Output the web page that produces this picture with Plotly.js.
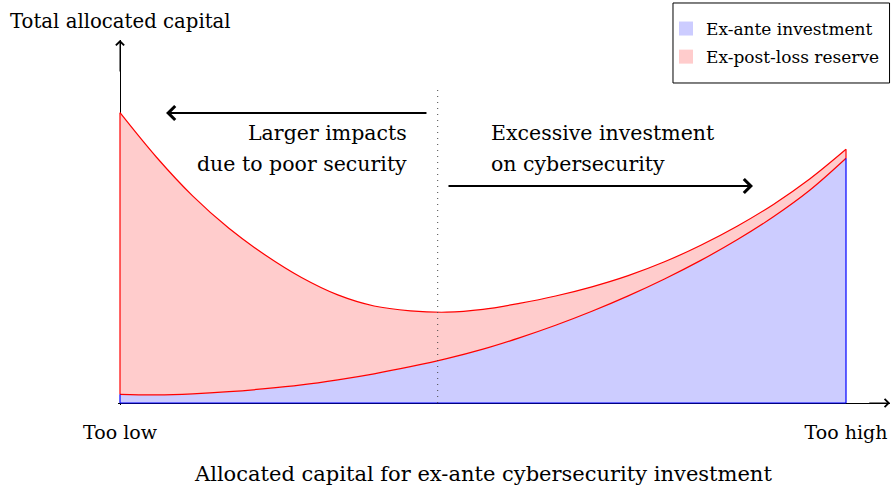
<!DOCTYPE html>
<html>
<head>
<meta charset="utf-8">
<script src="https://cdn.plot.ly/plotly-3.0.1.min.js"></script>
<style>html,body{margin:0;padding:0;background:#fff;}#chart{width:891px;height:487px;}</style>
</head>
<body>
<div id="chart"></div>
<script>
// Position along the "allocated capital for ex-ante investment" axis (arbitrary units)
const allocation = [0, 0.5, 1, 1.5, 2, 2.5, 3, 3.5, 4, 4.5, 5, 5.5, 6, 6.5, 7, 7.5, 8, 8.5, 9, 9.5, 10];
// Ex-ante investment (lower, blue area) - arbitrary capital units
const exAnte = [8.7, 8.2, 9.2, 11.3, 14.3, 18.1, 23.2, 29.2, 36.3, 44.3, 53.8,
                65.1, 77.7, 91.7, 107.1, 124.0, 142.6, 163.2, 186.2, 212.7, 244.7];
// Ex-post-loss reserve (stacked on top, red area)
const reserve = [281.6, 237.8, 197.9, 163.4, 133.7, 107.4, 84.9, 67.8, 55.9, 46.5, 39.8,
                 34.5, 29.3, 24.5, 20.3, 17.2, 15.2, 13.6, 12.4, 11.3, 9.0];
const tickLabels = ['Too low', 'Too high'];
const seriesNames = ['Ex-ante investment', 'Ex-post-loss reserve'];
const optimum = 4.376;

const total = exAnte.map((v, i) => v + reserve[i]);
const n = allocation.length - 1;
const x0 = allocation[0], xN = allocation[n];

const BLUE_FILL = 'rgb(204,204,255)', RED_FILL = 'rgb(255,204,204)';
const RED = 'rgb(255,0,0)', BLUE = 'rgb(0,0,255)';

const traces = [
  {x: allocation, y: exAnte, type: 'scatter', mode: 'lines', fill: 'tozeroy',
   fillcolor: BLUE_FILL, line: {color: RED, width: 1.2, shape: 'spline'}, showlegend: false, hoverinfo: 'skip'},
  {x: allocation, y: total, type: 'scatter', mode: 'lines', fill: 'tonexty',
   fillcolor: RED_FILL, line: {color: RED, width: 1.2, shape: 'spline'}, showlegend: false, hoverinfo: 'skip'},
  // outline of the ex-ante area (left, bottom and right edges)
  {x: [x0, x0, null, x0, xN, null, xN, xN], y: [0, exAnte[0], null, 0, 0, null, 0, exAnte[n]],
   type: 'scatter', mode: 'lines', line: {color: BLUE, width: 1.2}, connectgaps: false,
   showlegend: false, hoverinfo: 'skip'},
  // outline of the reserve area (left and right edges)
  {x: [x0, x0, null, xN, xN], y: [exAnte[0], total[0], null, exAnte[n], total[n]],
   type: 'scatter', mode: 'lines', line: {color: RED, width: 1.2}, connectgaps: false,
   showlegend: false, hoverinfo: 'skip'},
  // legend entries
  {x: [null], y: [null], type: 'scatter', mode: 'markers', name: seriesNames[0], legendgroup: 'a',
   marker: {symbol: 'square', size: 14, color: BLUE_FILL, line: {width: 0}}},
  {x: [null], y: [null], type: 'scatter', mode: 'markers', name: seriesNames[1], legendgroup: 'b',
   marker: {symbol: 'square', size: 14, color: RED_FILL, line: {width: 0}}}
];

const txt = (text, x, y, xanchor, size, ref) => ({
  text: text, x: x, y: y, xref: ref || 'x', yref: ref || 'y', xanchor: xanchor, yanchor: 'middle',
  showarrow: false, font: {size: size}
});
const arrow = (x, y, ax, ay, w, s) => ({
  text: '', x: x, y: y, ax: ax, ay: ay, xref: 'x', yref: 'y', axref: 'x', ayref: 'y',
  showarrow: true, arrowhead: 4, arrowwidth: w, arrowsize: s, arrowcolor: '#000', standoff: 0
});

const layout = {
  width: 891, height: 487,
  margin: {l: 118, r: 1, t: 40, b: 82, pad: 0},
  paper_bgcolor: '#fff', plot_bgcolor: '#fff',
  font: {family: '"DejaVu Serif", serif', size: 19, color: '#000'},
  showlegend: true,
  xaxis: {range: [-0.02755, 10.606], showgrid: false, zeroline: true, zerolinecolor: '#000',
    zerolinewidth: 1, showline: false, ticks: '', tickmode: 'array',
    tickvals: [x0, xN], ticktext: tickLabels, ticklabelstandoff: 14, fixedrange: true},
  yaxis: {range: [-2, 363], showgrid: false, zeroline: true, zerolinecolor: '#000',
    zerolinewidth: 1, showline: false, ticks: '', showticklabels: false, fixedrange: true},
  legend: {x: 0.9935, xanchor: 'right', y: 1.0795, yanchor: 'top', bgcolor: 'rgba(0,0,0,0)',
    borderwidth: 0, font: {size: 17}, traceorder: 'grouped', tracegroupgap: 3},
  shapes: [
    {type: 'rect', xref: 'paper', yref: 'paper', x0: 0.7189, x1: 0.9994, y0: 0.8822, y1: 1.1014,
     fillcolor: '#fff', line: {color: '#000', width: 1}},
    {type: 'line', xref: 'x', yref: 'y', x0: optimum, x1: optimum, y0: 0, y1: 317,
     line: {color: '#444', width: 1, dash: '1px,5px'}}
  ],
  annotations: [
    txt('Total allocated capital', 0.0026, 1.0507, 'center', 19.7, 'paper'),
    txt('Allocated capital for ex-ante cybersecurity investment', 0.4728, -0.1877, 'center', 21, 'paper'),
    txt('Larger impacts', 3.98, 270, 'right', 20.5),
    txt('due to poor security', 3.98, 239, 'right', 20.5),
    txt('Excessive investment', 5.083, 270, 'left', 20.5),
    txt('on cybersecurity', 5.083, 239, 'left', 20.5),
    arrow(0.634, 290, 4.242, 290, 1.8, 1.5),
    arrow(8.719, 217, 4.504, 217, 1.8, 1.5),
    arrow(10.606, 0, 10.3, 0, 1, 1.6),
    arrow(0, 363, 0, 330, 1, 1.6)
  ]
};

Plotly.newPlot('chart', traces, layout, {staticPlot: true, displayModeBar: false});
</script>
</body>
</html>
